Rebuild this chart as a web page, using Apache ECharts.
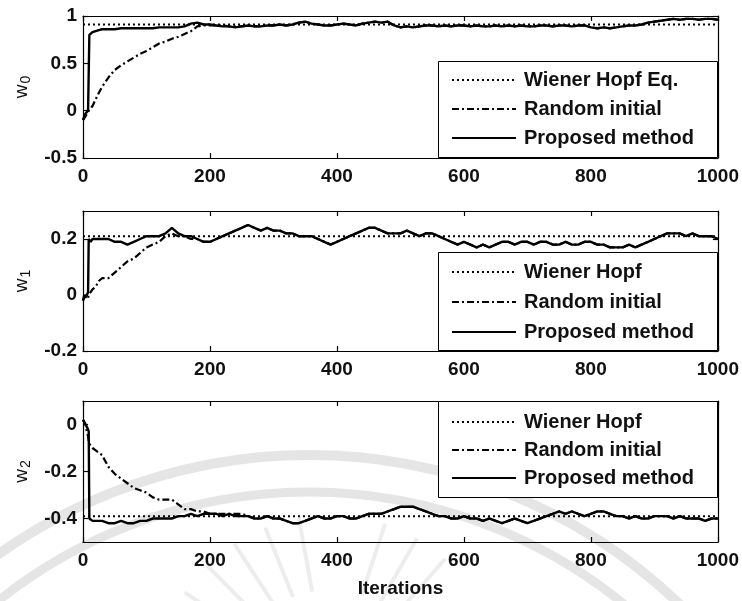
<!DOCTYPE html>
<html>
<head>
<meta charset="utf-8">
<script src="https://cdn.jsdelivr.net/npm/echarts@6/dist/echarts.min.js"></script>
<style>
  html, body { margin: 0; padding: 0; background: #ffffff; }
  #chart { width: 742px; height: 601px; }
</style>
</head>
<body>
<div id="chart"></div>
<script>
// Iteration index of every sample point
const iterations = [
  0, 2, 4, 6, 8, 9, 10, 12, 15, 20, 25, 30,
  40, 50, 60, 70, 80, 90, 100, 110, 120, 130,
  140, 150, 160, 170, 180, 190, 200, 210, 220, 230,
  240, 250, 260, 270, 280, 290, 300, 310, 320, 330,
  340, 350, 360, 370, 380, 390, 400, 410, 420, 430,
  440, 450, 460, 470, 480, 490, 500, 510, 520, 530,
  540, 550, 560, 570, 580, 590, 600, 610, 620, 630,
  640, 650, 660, 670, 680, 690, 700, 710, 720, 730,
  740, 750, 760, 770, 780, 790, 800, 810, 820, 830,
  840, 850, 860, 870, 880, 890, 900, 910, 920, 930,
  940, 950, 960, 970, 980, 990, 1000
];

// Optimal (Wiener-Hopf) weights
const wienerW0 = 0.91;
const wienerW1 = 0.21;
const wienerW2 = -0.39;

// Weight w0
const w0Proposed = [
  -0.10, -0.06, -0.03, -0.01, 0.00, 0.01, 0.80, 0.82, 0.83, 0.84, 0.85, 0.86,
  0.86, 0.86, 0.87, 0.87, 0.87, 0.87, 0.87, 0.87, 0.88, 0.88,
  0.88, 0.88, 0.89, 0.92, 0.93, 0.91, 0.91, 0.90, 0.89, 0.89,
  0.88, 0.89, 0.90, 0.89, 0.89, 0.90, 0.90, 0.91, 0.90, 0.91,
  0.93, 0.94, 0.92, 0.91, 0.90, 0.90, 0.91, 0.92, 0.91, 0.90,
  0.92, 0.93, 0.94, 0.93, 0.94, 0.90, 0.88, 0.89, 0.88, 0.89,
  0.90, 0.90, 0.89, 0.90, 0.89, 0.90, 0.90, 0.89, 0.90, 0.89,
  0.89, 0.90, 0.89, 0.90, 0.89, 0.90, 0.89, 0.89, 0.90, 0.90,
  0.89, 0.90, 0.90, 0.89, 0.90, 0.90, 0.88, 0.87, 0.88, 0.87,
  0.88, 0.89, 0.90, 0.90, 0.91, 0.93, 0.94, 0.95, 0.96, 0.97,
  0.96, 0.97, 0.97, 0.96, 0.97, 0.97, 0.96
];
const w0Random = [
  -0.10, -0.08, -0.06, -0.04, -0.01, 0.00, 0.00, 0.02, 0.05, 0.12, 0.19, 0.25,
  0.35, 0.43, 0.48, 0.52, 0.56, 0.60, 0.63, 0.67, 0.71, 0.73,
  0.76, 0.78, 0.81, 0.84, 0.89, 0.90, 0.90, 0.90, 0.90, 0.89,
  0.89, 0.89, 0.90, 0.89, 0.89, 0.90, 0.90, 0.91, 0.90, 0.91,
  0.93, 0.94, 0.92, 0.91, 0.90, 0.90, 0.91, 0.92, 0.91, 0.90,
  0.92, 0.93, 0.94, 0.93, 0.94, 0.90, 0.88, 0.89, 0.88, 0.89,
  0.90, 0.90, 0.89, 0.90, 0.89, 0.90, 0.90, 0.89, 0.90, 0.89,
  0.89, 0.90, 0.89, 0.90, 0.89, 0.90, 0.89, 0.89, 0.90, 0.90,
  0.89, 0.90, 0.90, 0.89, 0.90, 0.90, 0.88, 0.87, 0.88, 0.87,
  0.88, 0.89, 0.90, 0.90, 0.91, 0.93, 0.94, 0.95, 0.96, 0.97,
  0.96, 0.97, 0.97, 0.96, 0.97, 0.97, 0.96
];

// Weight w1
const w1Proposed = [
  -0.02, 0.00, -0.01, 0.00, 0.01, 0.20, 0.20, 0.19, 0.20, 0.20, 0.20, 0.20,
  0.20, 0.19, 0.19, 0.18, 0.19, 0.20, 0.21, 0.21, 0.21, 0.22,
  0.24, 0.22, 0.21, 0.21, 0.20, 0.19, 0.19, 0.20, 0.21, 0.22,
  0.23, 0.24, 0.25, 0.24, 0.23, 0.24, 0.23, 0.23, 0.22, 0.22,
  0.21, 0.21, 0.21, 0.20, 0.19, 0.18, 0.19, 0.20, 0.21, 0.22,
  0.23, 0.24, 0.24, 0.23, 0.22, 0.22, 0.22, 0.23, 0.22, 0.21,
  0.22, 0.22, 0.21, 0.20, 0.19, 0.18, 0.19, 0.18, 0.17, 0.18,
  0.17, 0.18, 0.19, 0.19, 0.18, 0.19, 0.19, 0.18, 0.19, 0.19,
  0.18, 0.18, 0.19, 0.18, 0.18, 0.19, 0.19, 0.18, 0.18, 0.17,
  0.17, 0.17, 0.18, 0.17, 0.18, 0.19, 0.20, 0.21, 0.22, 0.22,
  0.22, 0.21, 0.22, 0.21, 0.21, 0.21, 0.20
];
const w1Random = [
  -0.02, -0.01, 0.00, 0.00, -0.01, 0.00, 0.00, 0.01, 0.02, 0.03, 0.05, 0.06,
  0.06, 0.08, 0.10, 0.12, 0.13, 0.15, 0.17, 0.18, 0.19, 0.21,
  0.22, 0.21, 0.21, 0.20, 0.20, 0.19, 0.19, 0.20, 0.21, 0.22,
  0.23, 0.24, 0.25, 0.24, 0.23, 0.24, 0.23, 0.23, 0.22, 0.22,
  0.21, 0.21, 0.21, 0.20, 0.19, 0.18, 0.19, 0.20, 0.21, 0.22,
  0.23, 0.24, 0.24, 0.23, 0.22, 0.22, 0.22, 0.23, 0.22, 0.21,
  0.22, 0.22, 0.21, 0.20, 0.19, 0.18, 0.19, 0.18, 0.17, 0.18,
  0.17, 0.18, 0.19, 0.19, 0.18, 0.19, 0.19, 0.18, 0.19, 0.19,
  0.18, 0.18, 0.19, 0.18, 0.18, 0.19, 0.19, 0.18, 0.18, 0.17,
  0.17, 0.17, 0.18, 0.17, 0.18, 0.19, 0.20, 0.21, 0.22, 0.22,
  0.22, 0.21, 0.22, 0.21, 0.21, 0.21, 0.20
];

// Weight w2
const w2Proposed = [
  0.02, 0.01, 0.00, -0.01, -0.02, -0.03, -0.40, -0.40, -0.41, -0.41, -0.41, -0.41,
  -0.42, -0.42, -0.41, -0.42, -0.42, -0.41, -0.41, -0.40, -0.40, -0.40,
  -0.40, -0.39, -0.39, -0.38, -0.39, -0.38, -0.38, -0.38, -0.39, -0.38,
  -0.39, -0.39, -0.39, -0.40, -0.40, -0.39, -0.40, -0.40, -0.41, -0.42,
  -0.42, -0.41, -0.40, -0.39, -0.40, -0.40, -0.39, -0.39, -0.40, -0.40,
  -0.39, -0.38, -0.38, -0.38, -0.37, -0.36, -0.35, -0.35, -0.35, -0.36,
  -0.37, -0.38, -0.39, -0.39, -0.40, -0.40, -0.39, -0.40, -0.40, -0.41,
  -0.40, -0.41, -0.42, -0.41, -0.40, -0.41, -0.42, -0.41, -0.40, -0.39,
  -0.38, -0.37, -0.38, -0.37, -0.38, -0.39, -0.38, -0.37, -0.37, -0.38,
  -0.39, -0.39, -0.40, -0.39, -0.40, -0.40, -0.39, -0.39, -0.39, -0.40,
  -0.39, -0.40, -0.40, -0.40, -0.41, -0.40, -0.40
];
const w2Random = [
  0.02, 0.01, 0.00, -0.03, -0.05, -0.07, -0.08, -0.09, -0.10, -0.11, -0.12, -0.13,
  -0.18, -0.21, -0.23, -0.25, -0.27, -0.28, -0.29, -0.31, -0.32, -0.32,
  -0.32, -0.34, -0.36, -0.36, -0.37, -0.37, -0.38, -0.38, -0.38, -0.38,
  -0.38, -0.38, -0.39, -0.40, -0.40, -0.39, -0.40, -0.40, -0.41, -0.42,
  -0.42, -0.41, -0.40, -0.39, -0.40, -0.40, -0.39, -0.39, -0.40, -0.40,
  -0.39, -0.38, -0.38, -0.38, -0.37, -0.36, -0.35, -0.35, -0.35, -0.36,
  -0.37, -0.38, -0.39, -0.39, -0.40, -0.40, -0.39, -0.40, -0.40, -0.41,
  -0.40, -0.41, -0.42, -0.41, -0.40, -0.41, -0.42, -0.41, -0.40, -0.39,
  -0.38, -0.37, -0.38, -0.37, -0.38, -0.39, -0.38, -0.37, -0.37, -0.38,
  -0.39, -0.39, -0.40, -0.39, -0.40, -0.40, -0.39, -0.39, -0.39, -0.40,
  -0.39, -0.40, -0.40, -0.40, -0.41, -0.40, -0.40
];

// Axis ticks
const xTicks = [0, 200, 400, 600, 800, 1000];
const xRange = [0, 1000];
const yTicks = [[-0.5, 0, 0.5, 1], [-0.2, 0, 0.2], [-0.4, -0.2, 0]];
const yRanges = [[-0.5, 1], [-0.2, 0.3], [-0.5, 0.1]];

// Legend entries per panel
const wienerNames = ['Wiener Hopf Eq.', 'Wiener Hopf', 'Wiener Hopf'];
const randomName = 'Random initial';
const proposedName = 'Proposed method';
const subscripts = ['0', '1', '2'];

const FONT = '"Liberation Sans", Arial, Helvetica, sans-serif';
const INK = '#111';

const panels = [
  { wiener: wienerW0, random: w0Random, proposed: w0Proposed },
  { wiener: wienerW1, random: w1Random, proposed: w1Proposed },
  { wiener: wienerW2, random: w2Random, proposed: w2Proposed }
];

const gridBoxes = [
  { left: 83, top: 16, width: 635, height: 142 },
  { left: 83, top: 211, width: 635, height: 140 },
  { left: 83, top: 401, width: 635, height: 141 }
];
const legendBoxes = [
  { x: 438.5, y: 61.5, w: 279, h: 96, top: 70, gap: 9 },
  { x: 438.5, y: 252.5, w: 279, h: 98, top: 262, gap: 10 },
  { x: 438.5, y: 401.5, w: 279, h: 96, top: 412, gap: 8 }
];

const pairs = (ys) => iterations.map((x, i) => [x, ys[i]]);
const plainNumber = (v) => String(v);

const axisLineStyle = { color: '#000', width: 1.2 };
const grid = [], xAxis = [], yAxis = [], series = [], legend = [];

// faint circular emblem printed behind the lower panel: two rings and a few rays
const sealStroke = 'rgba(0,0,0,0.10)';
const graphic = [
  { type: 'arc', z: 0, silent: true,
    shape: { cx: 309, cy: 990, r: 535, startAngle: Math.PI, endAngle: Math.PI * 2, clockwise: true },
    style: { stroke: sealStroke, lineWidth: 10, fill: null } },
  { type: 'arc', z: 0, silent: true,
    shape: { cx: 309, cy: 990, r: 498, startAngle: Math.PI, endAngle: Math.PI * 2, clockwise: true },
    style: { stroke: sealStroke, lineWidth: 9, fill: null } }
];
[-2.55, -2.35, -2.15, -1.95, -1.75, -1.25, -1.05, -0.85].forEach((a) => {
  graphic.push({
    type: 'line', z: 0, silent: true,
    shape: {
      x1: 330 + 100 * Math.cos(a), y1: 690 + 100 * Math.sin(a),
      x2: 330 + 175 * Math.cos(a), y2: 690 + 175 * Math.sin(a)
    },
    style: { stroke: 'rgba(0,0,0,0.07)', lineWidth: 4 }
  });
});

panels.forEach((p, i) => {
  grid.push(Object.assign({ containLabel: false }, gridBoxes[i]));

  // bottom axis with labels, top axis as frame with ticks
  xAxis.push({
    type: 'value', gridIndex: i, min: xRange[0], max: xRange[1], position: 'bottom',
    axisLine: { show: true, onZero: false, lineStyle: axisLineStyle },
    axisTick: { show: true, inside: true, length: 5, customValues: xTicks, lineStyle: axisLineStyle },
    axisLabel: { show: true, customValues: xTicks, formatter: plainNumber, margin: 9, color: INK, fontFamily: FONT, fontWeight: 'bold', fontSize: 19 },
    splitLine: { show: false },
    name: i === 2 ? 'Iterations' : '',
    nameLocation: 'middle', nameGap: 37,
    nameTextStyle: { color: INK, fontFamily: FONT, fontWeight: 'bold', fontSize: 19 }
  });
  xAxis.push({
    type: 'value', gridIndex: i, min: xRange[0], max: xRange[1], position: 'top',
    axisLine: { show: true, onZero: false, lineStyle: axisLineStyle },
    axisTick: { show: true, inside: true, length: 5, customValues: xTicks, lineStyle: axisLineStyle },
    axisLabel: { show: false },
    splitLine: { show: false }
  });

  yAxis.push({
    type: 'value', gridIndex: i, min: yRanges[i][0], max: yRanges[i][1], position: 'left',
    axisLine: { show: true, onZero: false, lineStyle: axisLineStyle },
    axisTick: { show: true, inside: true, length: 5, customValues: yTicks[i], lineStyle: axisLineStyle },
    axisLabel: { show: true, customValues: yTicks[i], formatter: plainNumber, margin: 6, color: INK, fontFamily: FONT, fontWeight: 'bold', fontSize: 19 },
    splitLine: { show: false },
    name: '{w|w}{s|' + subscripts[i] + '}',
    nameLocation: 'middle', nameRotate: 90, nameGap: 38,
    nameTextStyle: {
      rich: {
        w: { fontFamily: FONT, fontSize: 19, color: INK, lineHeight: 22 },
        s: { fontFamily: FONT, fontSize: 14, color: INK, padding: [9, 0, 0, 1], lineHeight: 22 }
      }
    }
  });
  yAxis.push({
    type: 'value', gridIndex: i, min: yRanges[i][0], max: yRanges[i][1], position: 'right',
    axisLine: { show: true, onZero: false, lineStyle: axisLineStyle },
    axisTick: { show: true, inside: true, length: 5, customValues: yTicks[i], lineStyle: axisLineStyle },
    axisLabel: { show: false },
    splitLine: { show: false }
  });

  const xi = i * 2, yi = i * 2;
  series.push({
    name: wienerNames[i], type: 'line', xAxisIndex: xi, yAxisIndex: yi,
    data: [[xRange[0], p.wiener], [xRange[1], p.wiener]],
    symbol: 'none', silent: true, animation: false,
    itemStyle: { color: '#000' },
    lineStyle: { color: '#000', width: 2, type: [2, 3] }
  });
  series.push({
    name: randomName, type: 'line', xAxisIndex: xi, yAxisIndex: yi,
    data: pairs(p.random),
    symbol: 'none', silent: true, animation: false,
    itemStyle: { color: '#000' },
    lineStyle: { color: '#000', width: 2.2, type: [7, 3, 2, 3] }
  });
  series.push({
    name: proposedName, type: 'line', xAxisIndex: xi, yAxisIndex: yi,
    data: pairs(p.proposed),
    symbol: 'none', silent: true, animation: false,
    itemStyle: { color: '#000' },
    lineStyle: { color: '#000', width: 2.4, type: 'solid' }
  });

  const lb = legendBoxes[i];
  graphic.push({
    type: 'rect', z: 3, silent: true,
    shape: { x: lb.x, y: lb.y, width: lb.w, height: lb.h },
    style: { fill: '#fff', stroke: '#000', lineWidth: 1 }
  });
  legend.push({
    orient: 'vertical', left: 451, top: lb.top, padding: 0,
    itemWidth: 64, itemHeight: 20, itemGap: lb.gap,
    selectedMode: false,
    itemStyle: { opacity: 0, borderWidth: 0 },
    data: [wienerNames[i], randomName, proposedName],
    textStyle: { color: INK, fontFamily: FONT, fontWeight: 'bold', fontSize: 20, padding: [0, 0, 0, 3] }
  });
});

const chart = echarts.init(document.getElementById('chart'), null, { renderer: 'canvas' });
chart.setOption({
  backgroundColor: '#fff',
  animation: false,
  grid, xAxis, yAxis, series, legend, graphic
});
</script>
</body>
</html>
